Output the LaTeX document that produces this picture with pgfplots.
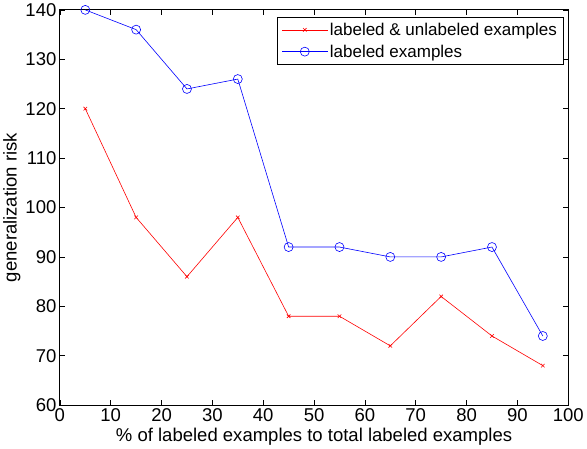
\documentclass[border=0pt]{standalone}
\usepackage{pgfplots}
\pgfplotsset{compat=1.18}
\usepackage{fontspec}
\setmainfont{Liberation Sans}
\begin{document}
\begin{tikzpicture}
\begin{axis}[
  width=508pt, height=395pt, scale only axis,
  xmin=0, xmax=100, ymin=60, ymax=140,
  xtick={0,10,...,100}, ytick={60,70,...,140},
  tick align=inside, tick pos=both,
  major tick length=5pt,
  tick style={black, line width=0.6pt},
  axis line style={line width=0.8pt},
  font=\fontsize{19}{21}\selectfont,
  tick label style={font=\fontsize{18.5}{21}\selectfont},
  label style={font=\fontsize{18.5}{21}\selectfont},
  /pgf/number format/assume math mode=true,
  xlabel={\% of labeled examples to total labeled examples},
  ylabel={generalization risk},
  xlabel style={yshift=1pt},
  ylabel style={yshift=-2pt},
  legend style={at={(0.99,0.983)}, anchor=north east, draw=black, line width=0.6pt,
    font=\fontsize{17}{19}\selectfont, row sep=4pt, inner sep=4pt},
  legend cell align=left,
  legend image code/.code={\draw[mark repeat=2,mark phase=2] plot coordinates {(0cm,0cm) (0.8cm,0cm) (1.6cm,0cm)};},
]
\addplot[red, line width=0.6pt, mark=x, mark size=2.5pt, mark options={solid, line width=0.6pt}] coordinates {
(5,120) (15,98) (25,86) (35,98) (45,78) (55,78) (65,72) (75,82) (85,74) (95,68)};
\addlegendentry{labeled \& unlabeled examples}
\addplot[blue, line width=0.6pt, mark=o, mark size=4.5pt, mark options={solid, line width=0.6pt}] coordinates {
(5,140) (15,136) (25,124) (35,126) (45,92) (55,92) (65,90) (75,90) (85,92) (95,74)};
\addlegendentry{labeled examples}
\end{axis}
\end{tikzpicture}
\end{document}
